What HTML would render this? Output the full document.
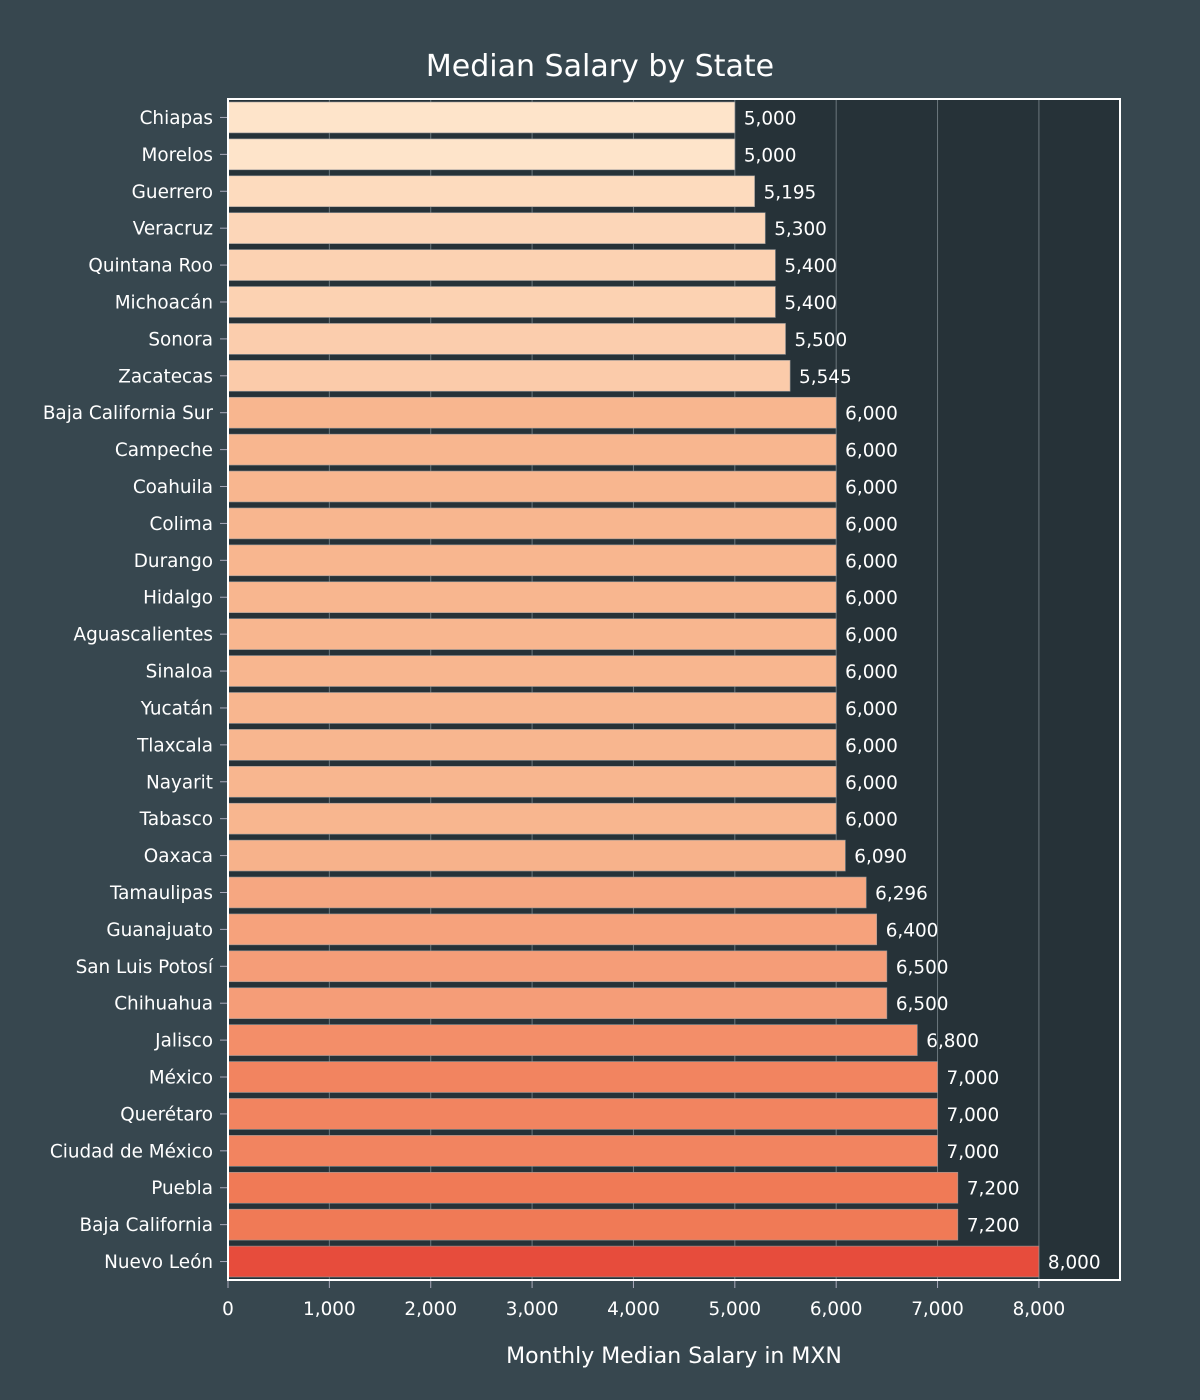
<!DOCTYPE html>
<html><head><meta charset="utf-8"><style>
body{margin:0;background:#37474f;}
svg{display:block;font-family:"DejaVu Sans","Liberation Sans",sans-serif;}
</style></head><body>
<svg id="chart" width="1200" height="1400">
<rect width="1200" height="1400" fill="#37474f"/>
<text x="600" y="76" text-anchor="middle" fill="#fff" font-size="30">Median Salary by State</text>
<rect x="228" y="99" width="892" height="1181" fill="#263238"/>
<g id="grid"></g><g id="bars"></g><g id="labels"></g><g id="xticks"></g>
<rect x="228" y="99" width="892" height="1181" fill="none" stroke="#fff" stroke-width="2"/>
<text x="674" y="1363" text-anchor="middle" fill="#fff" font-size="22">Monthly Median Salary in MXN</text>
</svg>
<script>
const states=["Chiapas","Morelos","Guerrero","Veracruz","Quintana Roo","Michoacán","Sonora","Zacatecas","Baja California Sur","Campeche","Coahuila","Colima","Durango","Hidalgo","Aguascalientes","Sinaloa","Yucatán","Tlaxcala","Nayarit","Tabasco","Oaxaca","Tamaulipas","Guanajuato","San Luis Potosí","Chihuahua","Jalisco","México","Querétaro","Ciudad de México","Puebla","Baja California","Nuevo León"];
const salaries=[5000,5000,5195,5300,5400,5400,5500,5545,6000,6000,6000,6000,6000,6000,6000,6000,6000,6000,6000,6000,6090,6296,6400,6500,6500,6800,7000,7000,7000,7200,7200,8000];
const xTicks=[0,1000,2000,3000,4000,5000,6000,7000,8000];
const X0=228,PW=892,XMAX=8800,Y0=99,PH=1181;
const x=v=>X0+v/XMAX*PW;
const band=PH/states.length;
const y=i=>Y0+i*band;
const NS="http://www.w3.org/2000/svg";
function mk(t,a,p){const e=document.createElementNS(NS,t);for(const k in a)e.setAttribute(k,a[k]);p.appendChild(e);return e;}
const stops=[[5000,[254,228,202]],[6000,[248,182,143]],[7000,[242,132,96]],[7200,[240,122,86]],[8000,[231,76,60]]];
function col(v){if(v<=stops[0][0])return stops[0][1];for(let i=1;i<stops.length;i++){if(v<=stops[i][0]){const a=stops[i-1],b=stops[i],t=(v-a[0])/(b[0]-a[0]);return a[1].map((c,j)=>Math.round(c+(b[1][j]-c)*t));}}return stops[stops.length-1][1];}
const grid=document.getElementById('grid'),bars=document.getElementById('bars'),labels=document.getElementById('labels'),xt=document.getElementById('xticks');
xTicks.forEach(t=>{
 if(t>0){const g=mk('line',{x1:x(t),x2:x(t),y1:Y0,y2:Y0+PH,stroke:'#6b777d','stroke-width':1},grid);
 
 }
 const tk=mk('line',{x1:x(t),x2:x(t),y1:Y0+PH,y2:Y0+PH+8,stroke:'#aab',"stroke-width":1},xt);
 
 
 const tl=mk('text',{x:x(t),y:1315,'text-anchor':'middle',fill:'#fff','font-size':18.4},xt);
 tl.textContent=t.toLocaleString('en-US');
 
 
});
states.forEach((s,i)=>{
 const v=salaries[i],c=col(v),top=y(i)+3,h=band-6,cy=y(i)+band/2;
 const r=mk('rect',{x:X0,y:top,width:x(v)-X0,height:h,fill:`rgb(${c})`,stroke:'#999','stroke-width':0.6},bars);
 
 
 const vl=mk('text',{x:x(v)+9,y:cy+7,fill:'#fff','font-size':18.4},labels);
 vl.textContent=v.toLocaleString('en-US');
 
 
 const tk=mk('line',{x1:X0-8,x2:X0,y1:cy,y2:cy,stroke:'#aab','stroke-width':1},labels);
 
 
 const sl=mk('text',{x:X0-15,y:cy+6.5,'text-anchor':'end',fill:'#fff','font-size':18.4},labels);
 sl.textContent=s;
 
 
});
</script>
</body></html>
